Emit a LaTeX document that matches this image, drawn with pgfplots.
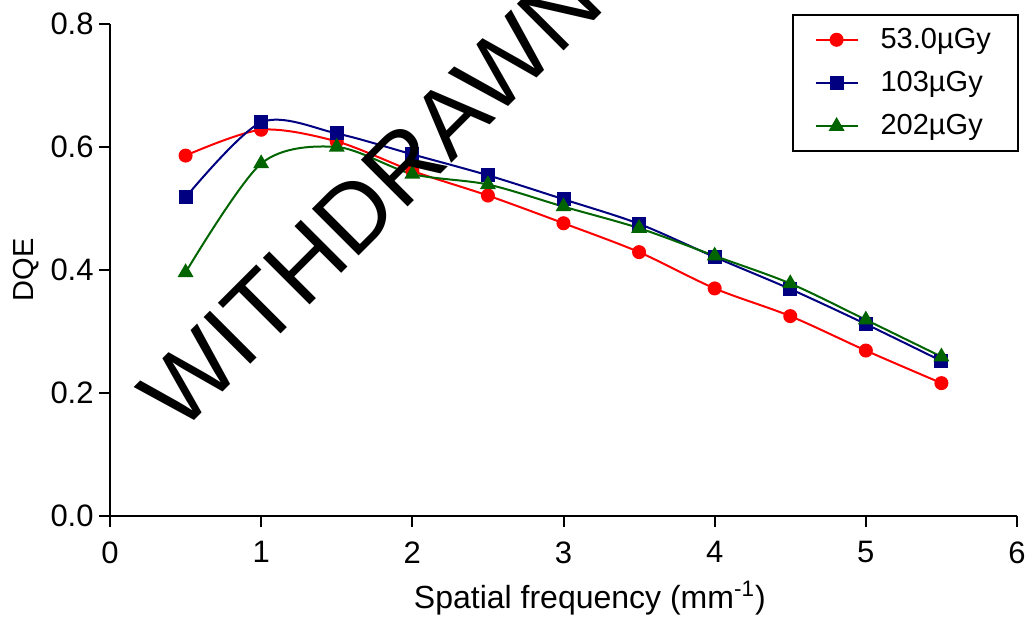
\documentclass[border=0pt]{standalone}
\usepackage{fontspec}
\setmainfont{Liberation Sans}
\usepackage{pgfplots}
\pgfplotsset{compat=1.18}
\definecolor{dqered}{RGB}{255,0,0}
\definecolor{dqeblue}{RGB}{0,0,128}
\definecolor{dqegreen}{RGB}{0,100,0}
\newcommand{\fs}{\fontsize{14.5bp}{17bp}\selectfont}
\newcommand{\ft}{\fontsize{15.5bp}{18bp}\selectfont}
\begin{document}
\begin{tikzpicture}
\begin{axis}[scale only axis, width=453.5bp, height=246bp,
  xmin=0, xmax=6, ymin=0, ymax=0.8,
  axis lines=left, axis line style={-, line width=1.1bp},
  xtick={0,1,...,6}, ytick={0,0.2,0.4,0.6,0.8},
  tick align=outside, major tick length=5.5bp, tick style={line width=1bp, black},
  yticklabel style={/pgf/number format/fixed, /pgf/number format/fixed zerofill,
    /pgf/number format/precision=1},
  /pgf/number format/assume math mode=true,
  ticklabel style={font=\ft},
  xticklabel style={inner sep=0pt, yshift=-7bp},
  yticklabel style={inner sep=0pt, xshift=-2.5bp},
  xlabel={Spatial frequency (mm\textsuperscript{-1})},
  ylabel={DQE},
  xlabel style={font=\fontsize{16bp}{19bp}\selectfont, at={(axis description cs:0.529,-0.189)}, anchor=base, inner sep=0pt},
  ylabel style={font=\fs, at={(axis description cs:-0.0838,0.5)}, anchor=base, inner sep=0pt},
  clip=false,
  legend style={at={(1.002,1.02)}, anchor=north east, draw=black, line width=1bp,
    font=\fs, inner xsep=11bp, inner ysep=4bp, row sep=5bp,
    nodes={inner sep=2.5bp},
    /tikz/every odd column/.append style={column sep=8.5bp}},
  legend cell align=left,
  legend image code/.code={\draw[mark repeat=2,mark phase=2] plot coordinates {(0bp,0bp) (10.5bp,0bp) (21bp,0bp)};},
]
\addplot[color=dqered, line width=1bp, smooth, mark=*, mark size=3bp, mark options={solid}]
 coordinates {(0.5,0.586) (1,0.628) (1.5,0.609) (2,0.561) (2.5,0.521) (3,0.476)
  (3.5,0.429) (4,0.370) (4.5,0.325) (5,0.269) (5.5,0.216)};
\addlegendentry{53.0µGy}
\addplot[color=dqeblue, line width=1bp, smooth, mark=square*, mark size=3bp, mark options={solid}]
 coordinates {(0.5,0.518) (1,0.640) (1.5,0.622) (2,0.588) (2.5,0.554) (3,0.515)
  (3.5,0.475) (4,0.421) (4.5,0.369) (5,0.312) (5.5,0.252)};
\addlegendentry{103µGy}
\addplot[color=dqegreen, line width=1bp, smooth, mark=triangle*, mark size=3.6bp, mark options={solid}]
 coordinates {(0.5,0.396) (1,0.573) (1.5,0.600) (2,0.556) (2.5,0.539) (3,0.503)
  (3.5,0.468) (4,0.423) (4.5,0.378) (5,0.319) (5.5,0.259)};
\addlegendentry{202µGy}
\coordinate (bl) at (axis cs:-0.7277,-0.1691);
\coordinate (tr) at (axis cs:6.0661,0.8390);
\coordinate (wm) at (axis cs:0.463,0.1317);
\end{axis}
\node[rotate=45, anchor=base west, inner sep=0pt, font=\fontsize{48bp}{50bp}\selectfont] at (wm) {WITHDRAWN};
\pgfresetboundingbox
\useasboundingbox (bl) rectangle (tr);
\end{tikzpicture}
\end{document}
